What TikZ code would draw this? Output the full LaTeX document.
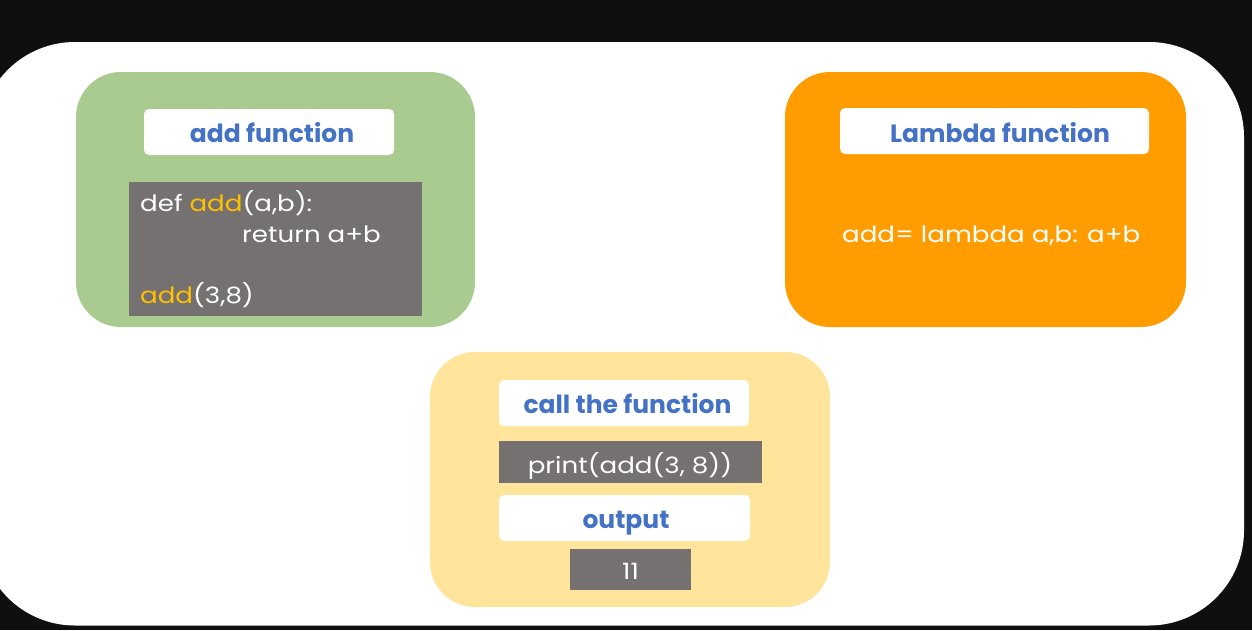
\documentclass[tikz,border=0pt]{standalone}
\usepackage{fontspec}
\setmainfont{Poppins}
\newfontfamily\codefont[FakeStretch=1.16]{Poppins}
\definecolor{bgblack}{HTML}{0F0F0F}
\definecolor{boxgreen}{HTML}{A9CB8F}
\definecolor{boxorange}{HTML}{FF9D00}
\definecolor{boxyellow}{HTML}{FFE59B}
\definecolor{codegray}{HTML}{767171}
\definecolor{codeyellow}{HTML}{FFC000}
\definecolor{titleblue}{HTML}{4472C4}
\begin{document}
\begin{tikzpicture}[x=1pt,y=-1pt,
  panel/.style={fill=#1, draw=none, rounded corners=45pt, inner sep=0pt},
  titlebox/.style={fill=white, draw=none, rounded corners=5pt, inner sep=0pt},
  codebox/.style={fill=codegray, draw=none, inner sep=0pt},
  titletext/.style={inner sep=0pt, anchor=base, text=titleblue, font=\fontsize{25}{30}\selectfont\bfseries},
  codetext/.style={inner sep=0pt, anchor=base west, text=white, font=\codefont\fontsize{22.5}{26}\selectfont},
  codetextc/.style={inner sep=0pt, anchor=base, text=white, font=\codefont\fontsize{22.5}{26}\selectfont}
]
\useasboundingbox (0,0) rectangle (1252,630);
\fill[bgblack] (0,0) rectangle (1252,630);
\fill[white, rounded corners=95pt] (-20,42) rectangle (1244,625.5);

% green panel
\node[panel=boxgreen, minimum width=399pt, minimum height=255pt] (green) at (275.5,199.5) {};
\node[titlebox, minimum width=250pt, minimum height=46pt] (addtitlebox) at (269,132) {};
\node[titletext] (addtitle) at (272,142.5) {add function};
\node[codebox, minimum width=293pt, minimum height=134pt] (addcode) at (275.5,249) {};
\node[codetext] (l1) at (140,211.5) {def \textcolor{codeyellow}{add}(a,b):};
\node[codetext] (l2) at (242,242) {return a+b};
\node[codetext] (l3) at (140,303) {\textcolor{codeyellow}{add}(3,8)};

% orange panel
\node[panel=boxorange, minimum width=401pt, minimum height=255pt] (orange) at (985.5,199.5) {};
\node[titlebox, minimum width=309pt, minimum height=46pt] (lamtitlebox) at (994.5,131) {};
\node[titletext] (lamtitle) at (1000,142) {Lambda function};
\node[codetext] (lamcode) at (842,242) {add= lambda a,b: a+b};

% yellow panel
\node[panel=boxyellow, minimum width=400pt, minimum height=255pt] (yellow) at (630,479.5) {};
\node[titlebox, minimum width=250pt, minimum height=46pt] (calltitlebox) at (624,403) {};
\node[titletext] (calltitle) at (627.5,413) {call the function};
\node[codebox, minimum width=263pt, minimum height=42pt] (callcode) at (630.5,462) {};
\node[codetextc] (calltext) at (630,473) {print(add(3, 8))};
\node[titlebox, minimum width=251pt, minimum height=46pt] (outtitlebox) at (624.5,518) {};
\node[titletext] (outtitle) at (626,528) {output};
\node[codebox, minimum width=121pt, minimum height=41pt] (outcode) at (630.5,569.5) {};
\node[codetextc] (outtext) at (630.5,579) {11};
\end{tikzpicture}
\end{document}
